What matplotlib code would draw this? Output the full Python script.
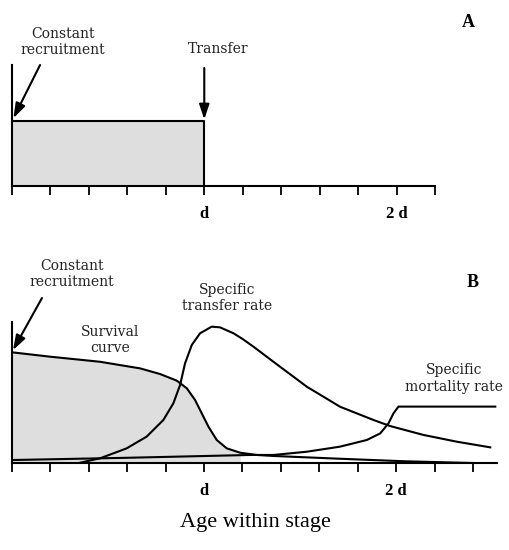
import numpy as np
import matplotlib
matplotlib.use('Agg')
import matplotlib.pyplot as plt

plt.rcParams['font.family'] = ['Liberation Serif', 'DejaVu Serif']

# age axis in units of d (stage duration)
tick_pos = [0.0, 0.2, 0.4, 0.6, 0.8, 1.0, 1.2, 1.4, 1.6, 1.8, 2.0, 2.2, 2.4]
tick_lab = {1.0: 'd', 2.0: '2 d'}

# panel A: constant recruitment, fixed transfer at age d
box_age = [0.0, 1.0]
box_level = 0.54

# panel B: curves (age in d, relative height)
surv_age = [0.0, 0.198, 0.458, 0.667, 0.771, 0.858, 0.91, 0.953, 0.988, 1.023, 1.066,
            1.118, 1.188, 1.274, 1.36, 1.71, 2.05, 2.40]
surv_val = [0.785, 0.754, 0.718, 0.671, 0.631, 0.584, 0.53, 0.447, 0.352, 0.257, 0.163,
            0.104, 0.073, 0.057, 0.05, 0.03, 0.012, 0.0]
fill_until = 1.19

trans_age = [0.354, 0.458, 0.597, 0.701, 0.788, 0.84, 0.875, 0.901, 0.936, 0.979, 1.04,
             1.083, 1.153, 1.2, 1.257, 1.361, 1.535, 1.708, 1.882, 1.969, 2.142, 2.316, 2.49]
trans_val = [0.002, 0.033, 0.104, 0.187, 0.305, 0.423, 0.553, 0.707, 0.837, 0.92, 0.967,
             0.962, 0.92, 0.88, 0.825, 0.718, 0.541, 0.399, 0.305, 0.262, 0.199, 0.151, 0.111]

mort_age = [0.0, 0.6, 1.24, 1.361, 1.535, 1.708, 1.847, 1.917, 1.96, 1.986, 2.012, 2.516]
mort_val = [0.021, 0.037, 0.057, 0.057, 0.08, 0.116, 0.163, 0.21, 0.281, 0.352, 0.40, 0.40]

W, H = 510, 550
fig = plt.figure(figsize=(W / 100, H / 100), dpi=100)

def px_axes(x0, x1, ytop, ybot):
    return fig.add_axes([x0 / W, 1 - ybot / H, (x1 - x0) / W, (ybot - ytop) / H])

def style(ax, xmax):
    ax.set_xlim(0, xmax)
    ax.set_ylim(0, 1)
    for s in ['top', 'right']:
        ax.spines[s].set_visible(False)
    for s in ['left', 'bottom']:
        ax.spines[s].set_linewidth(1.5)
    ax.set_yticks([])
    ticks = [t for t in tick_pos if t <= xmax]
    ax.set_xticks(ticks)
    ax.set_xticklabels([tick_lab.get(round(t, 1), '') for t in ticks],
                       fontsize=12, fontweight='bold')
    ax.tick_params(axis='x', direction='out', length=6.5, width=1.3, pad=8)
    ax.patch.set_visible(False)

arrow = dict(arrowstyle='-|>,head_length=0.9,head_width=0.3', color='black', lw=1.5,
             shrinkA=0, shrinkB=0)
lab = dict(ha='center', va='center', fontsize=10, family='DejaVu Serif',
           color='#222222', clip_on=False)

# ---- panel A
axA = px_axes(12, 435, 65, 186)
style(axA, 2.2)
axA.fill_between(box_age, 0, box_level, color='#dedede', lw=0)
axA.plot([box_age[0], box_age[1], box_age[1]], [box_level, box_level, 0], color='black', lw=1.5)
axA.annotate('', xy=(0.007, 0.56), xytext=(0.146, 1.0), arrowprops=arrow, annotation_clip=False)
axA.annotate('', xy=(1.0, 0.55), xytext=(1.0, 0.975), arrowprops=arrow, annotation_clip=False)
axA.text(0.266, 1.19, 'Constant\nrecruitment', **lab)
axA.text(1.07, 1.13, 'Transfer', **lab)
axA.text(2.375, 1.355, 'A', ha='center', va='center', fontsize=13, fontweight='bold', clip_on=False)

# ---- panel B
axB = px_axes(12, 497, 322, 463)
style(axB, 2.525)
fa = np.array(surv_age)
fv = np.array(surv_val)
m = fa <= fill_until
axB.fill_between(fa[m], 0, fv[m], color='#dedede', lw=0)
axB.plot(surv_age, surv_val, color='black', lw=1.5)
axB.plot(trans_age, trans_val, color='black', lw=1.5)
axB.plot(mort_age, mort_val, color='black', lw=1.5)
axB.annotate('', xy=(0.005, 0.80), xytext=(0.156, 1.17), arrowprops=arrow, annotation_clip=False)
axB.text(0.31, 1.34, 'Constant\nrecruitment', **lab)
axB.text(0.51, 0.87, 'Survival\ncurve', **lab)
axB.text(1.12, 1.17, 'Specific\ntransfer rate', **lab)
axB.text(2.30, 0.60, 'Specific\nmortality rate', **lab)
axB.text(2.40, 1.28, 'B', ha='center', va='center', fontsize=13, fontweight='bold', clip_on=False)

fig.text(255 / W, 1 - 522 / H, 'Age within stage', ha='center', va='center', fontsize=16)

fig.savefig('out.png', dpi=100)
